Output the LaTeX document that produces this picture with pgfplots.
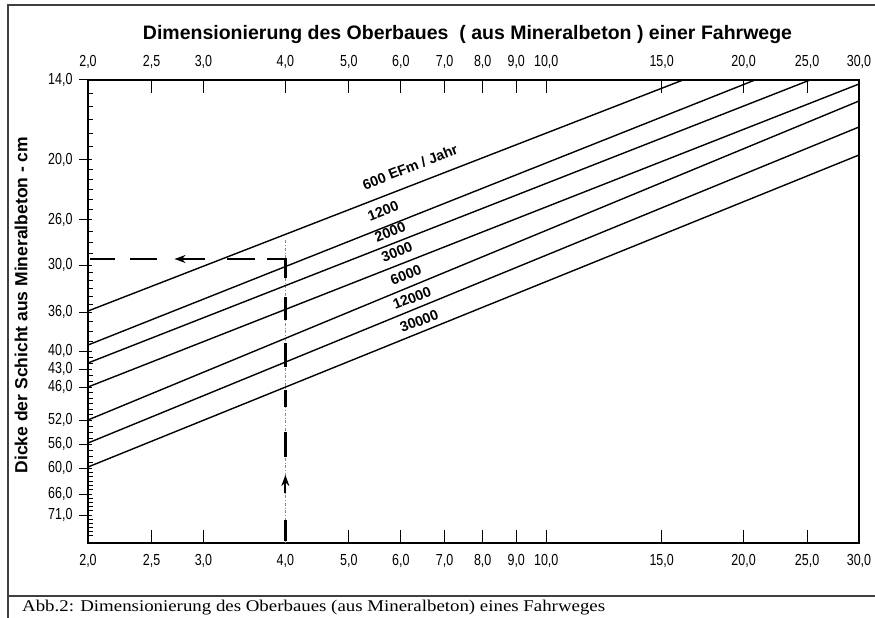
\documentclass[border=0pt]{standalone}
\usepackage{fontspec}
\setmainfont{Liberation Sans}
\newfontfamily\tickfont[FakeStretch=0.78]{Liberation Sans}
\newfontfamily\capfont[FakeStretch=1.15]{Liberation Serif}
\usepackage{pgfplots}
\pgfplotsset{compat=1.18}
\usetikzlibrary{arrows.meta}
\begin{document}
\begin{tikzpicture}[x=1pt,y=1pt]
\useasboundingbox (0,0) rectangle (875,618);
% frame
\draw[line width=1.3pt, black!75] (8,0) -- (8,613) -- (875,613);
\draw[line width=1.3pt, black!75] (8,22) -- (875,22);
% title
\node[anchor=base, inner sep=0pt, font=\bfseries\fontsize{19.5}{20}\selectfont] at (467.5,578) {Dimensionierung des Oberbaues\ \ ( aus Mineralbeton ) einer Fahrwege};
% y label
\node[rotate=90, inner sep=0pt, font=\bfseries\fontsize{17.5}{18}\selectfont] at (21,313) {Dicke der Schicht aus Mineralbeton - cm};
% caption
\node[anchor=base west, inner sep=0pt, font=\capfont\fontsize{16.4}{17}\selectfont] at (22,6) {Abb.2: Dimensionierung des Oberbaues (aus Mineralbeton) eines Fahrweges};
\begin{axis}[
  at={(88pt,75pt)}, anchor=south west, scale only axis,
  width=771pt, height=463pt,
  xmode=log, xmin=2, xmax=30,
  ymin=80, ymax=543, y dir=reverse,
  xtick={2,2.5,3,4,5,6,7,8,9,10,15,20,25,30},
  xticklabels={{2,0},{2,5},{3,0},{4,0},{5,0},{6,0},{7,0},{8,0},{9,0},{10,0},{15,0},{20,0},{25,0},{30,0}},
  xminorticks=false,
  tick label style={font=\tickfont\fontsize{16}{16}\selectfont},
  axis line style={line width=1.3pt},
  tick align=inside,
  major tick length=13pt, minor tick length=5pt,
  every tick/.style={black, line width=1pt},
  major y tick style={xshift=-9pt},
  xtick pos=both, ytick pos=left,
  xticklabel pos=lower,
  xticklabel style={yshift=-8pt},
  ytick={80,160,220,265,312,351,369,387,420,444,468,494,515},
  yticklabels={{14,0},{20,0},{26,0},{30,0},{36,0},{40,0},{43,0},{46,0},{52,0},{56,0},{60,0},{66,0},{71,0}},
  yticklabel style={xshift=-12pt},
  minor ytick={93.3,106.7,120,133.3,146.7,170,180,190,200,210,231.25,242.5,253.75,272.8,280.7,288.5,296.3,304.2,321.75,331.5,341.25,357,363,375,381,392.5,398,403.5,409,414.5,426,432,438,450,456,462,472.3,476.7,481,485.3,489.7,498.2,502.4,506.6,510.8,519,523,527,531,535},
  clip=false,
]
% construction line
\addplot[line width=0.5pt, black!45, dash dot] coordinates {(4,240) (4,543)};
% design lines (EFm / Jahr)
\addplot[black, line width=1.4pt] coordinates {(2,311) (16.17,80)};   % 600
\addplot[black, line width=1.4pt] coordinates {(2,345) (20.82,80)};   % 1200
\addplot[black, line width=1.4pt] coordinates {(2,363) (25.26,80)};   % 2000
\addplot[black, line width=1.4pt] coordinates {(2,387) (30,84)};      % 3000
\addplot[black, line width=1.4pt] coordinates {(2,420) (30,101)};     % 6000
\addplot[black, line width=1.4pt] coordinates {(2,443) (30,127)};     % 12000
\addplot[black, line width=1.4pt] coordinates {(2,467) (30,155)};     % 30000
% reading example (dashed)
\addplot[black, line width=2.3pt, unbounded coords=jump] coordinates {
 (4,541) (4,520) (4,nan)
 (4,457) (4,432) (4,nan)
 (4,407) (4,390) (4,nan)
 (4,367) (4,343) (4,nan)
 (4,320) (4,297) (4,nan)
 (4,278) (4,259) (3.75,259) (4,nan)
 (3.596,259) (3.259,259) (4,nan)
 (2.549,259) (2.318,259) (4,nan)
 (2.199,259) (2.014,259)};
\addplot[black, line width=2.2pt, -{Stealth[length=11pt,width=8pt]}] coordinates {(3.02,259) (2.71,259)};
\addplot[black, line width=2.2pt, -{Stealth[length=11pt,width=8pt]}] coordinates {(4,493) (4,475)};
% curve labels
\begin{scope}[every node/.style={rotate=21.5, font=\bfseries\fontsize{14.3}{15}\selectfont, inner sep=0pt}]
\node at (axis cs:6.20,167) {600 EFm / Jahr};
\node at (axis cs:5.64,211) {1200};
\node at (axis cs:5.78,232) {2000};
\node at (axis cs:5.92,252) {3000};
\node at (axis cs:6.11,275) {6000};
\node at (axis cs:6.24,298) {12000};
\node at (axis cs:6.40,321) {30000};
\end{scope}
\end{axis}
\begin{axis}[
  at={(88pt,75pt)}, anchor=south west, scale only axis,
  width=771pt, height=463pt,
  xmode=log, xmin=2, xmax=30,
  ymin=80, ymax=543, y dir=reverse,
  xtick={2,2.5,3,4,5,6,7,8,9,10,15,20,25,30},
  xticklabels={{2,0},{2,5},{3,0},{4,0},{5,0},{6,0},{7,0},{8,0},{9,0},{10,0},{15,0},{20,0},{25,0},{30,0}},
  xminorticks=false,
  tick label style={font=\tickfont\fontsize{16}{16}\selectfont},
  axis line style={draw=none},
  xtick style={draw=none},
  ytick=\empty,
  xtick pos=upper, xticklabel pos=upper,
  xticklabel style={yshift=8pt},
]
\end{axis}
\end{tikzpicture}
\end{document}
